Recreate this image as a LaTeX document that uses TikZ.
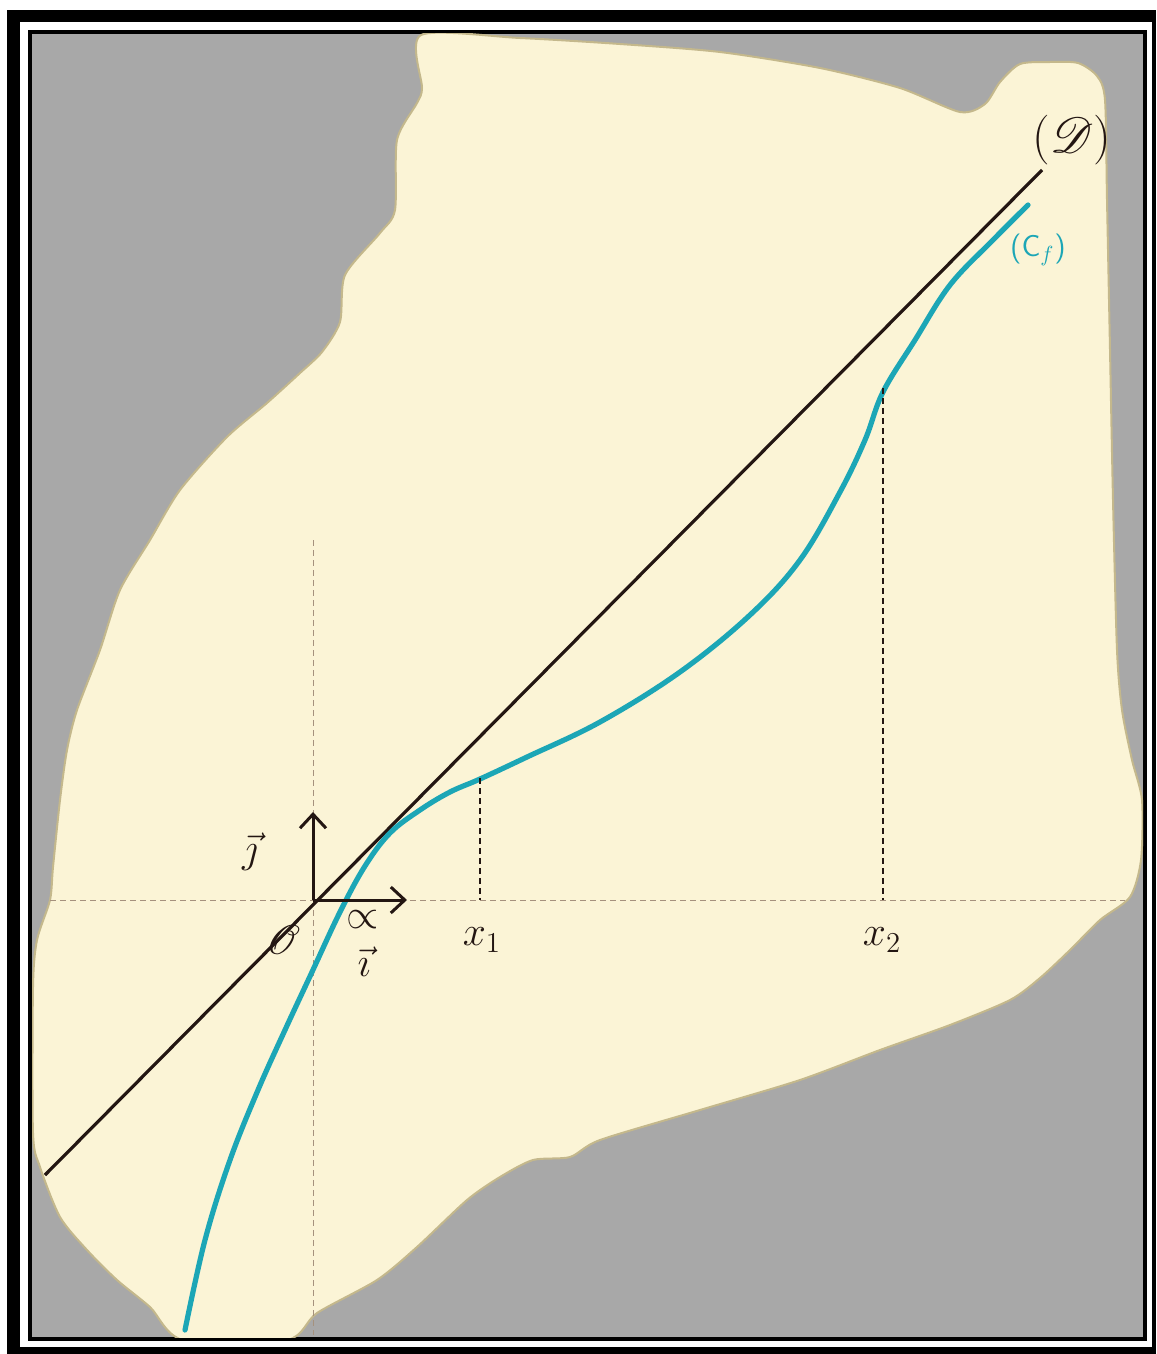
\documentclass[tikz,border=0pt]{standalone}
\usepackage{mathrsfs}
\usetikzlibrary{arrows.meta}
\definecolor{paper}{RGB}{251,244,214}
\definecolor{paperedge}{RGB}{196,184,140}
\definecolor{bggray}{RGB}{168,168,168}
\definecolor{curvecol}{RGB}{28,166,182}
\definecolor{axiscol}{RGB}{165,145,125}
\definecolor{inkcol}{RGB}{35,22,18}
\begin{document}
\begin{tikzpicture}[x=0.5pt,y=-0.5pt,
  faintaxis/.style={axiscol, densely dashed, line width=0.5pt},
  unitvec/.style={inkcol, line width=1.5pt, -{Straight Barb[length=7pt,width=13pt,line width=1.5pt]}},
  dline/.style={inkcol, line width=1.6pt},
  cfcurve/.style={curvecol, line width=2.6pt, line cap=round},
  proj/.style={inkcol, dashed, dash pattern=on 3pt off 2pt, line width=1pt},
  lbl/.style={inner sep=0pt, text=inkcol}]
\useasboundingbox (0,0) rectangle (1156,1354);
% frame
\fill[white] (0,0) rectangle (1156,1354);
\fill[black] (7,10) rectangle (1156,1354);
\fill[white] (20,22) rectangle (1152,1347);
\fill[black] (28,30) rectangle (1147,1341);
\fill[bggray] (32,34) rectangle (1143,1337);
% paper
\begin{scope}
\clip (32,34) rectangle (1143,1337);
\filldraw[fill=paper, draw=paperedge, line width=1pt] plot[smooth cycle, tension=0.45] coordinates {
(421,35) (520,38) (620,44) (720,52) (820,68) (900,88) (960,112) (985,104) (1000,82)
(1020,64) (1050,62) (1078,63) (1097,76) (1105,100) (1107,200) (1110,350) (1113,500)
(1117,650) (1122,710) (1132,760) (1142,800) (1141,860) (1130,897) (1100,920) (1070,950)
(1040,978) (1010,1000) (950,1025) (880,1050) (800,1080) (700,1110) (600,1140) (570,1157)
(533,1160) (500,1177) (467,1200) (417,1247) (377,1280) (317,1313) (287,1340) (183,1340)
(150,1307) (117,1280) (87,1250) (60,1217) (40,1167) (33,1133) (33,987) (37,940) (50,900)
(53,867) (60,800) (67,750) (77,710) (100,650) (120,590) (150,540) (180,490) (227,437)
(267,403) (300,373) (322,352) (340,322) (345,275) (380,233) (395,210) (397,140) (417,103)
(422,88)};
\end{scope}
% named points
\coordinate (O) at (313,900);
\coordinate (I) at (407,900);
\coordinate (J) at (313,812);
\coordinate (AxL) at (50,900);
\coordinate (AxR) at (1125,900);
\coordinate (AxT) at (313,540);
\coordinate (AxB) at (313,1335);
\coordinate (D1) at (45,1175);
\coordinate (D2) at (1042,170);
\coordinate (X1top) at (480,778);
\coordinate (X1bot) at (480,900);
\coordinate (X2top) at (883,388);
\coordinate (X2bot) at (883,900);
% faint axes
\draw[faintaxis] (AxL) -- (AxR);
\draw[faintaxis] (AxT) -- (AxB);
% line D
\draw[dline] (D1) -- (D2);
% curve C_f
\draw[cfcurve] plot[smooth, tension=0.6] coordinates {
(185,1330) (205,1240) (230,1160) (258,1090) (285,1030) (312,972) (340,912)
(365,866) (390,833) (420,810) (450,792) (480,779) (527,757) (600,722)
(680,672) (750,615) (800,560) (840,492) (865,440) (883,392) (915,340) (950,285)
(993,240) (1028,205)};
% projections
\draw[proj] (X1top) -- (X1bot);
\draw[proj] (X2top) -- (X2bot);
% unit vectors
\draw[unitvec] (O) -- (I);
\draw[unitvec] (O) -- (J);
% labels
\node[lbl, font=\fontsize{24}{28}\selectfont] (LD) at (1072,140) {$(\mathscr{D})$};
\node[lbl, text=curvecol, font=\sffamily\fontsize{15}{18}\selectfont] (LC) at (1038,250) {(C$_f$)};
\node[lbl, font=\fontsize{22}{26}\selectfont] (LJ) at (250,852) {$\vec{\jmath}$};
\node[lbl, font=\fontsize{22}{26}\selectfont] (LO) at (283,940) {$\mathscr{O}$};
\node[lbl, font=\fontsize{20}{24}\selectfont] (Lx) at (363,920) {$\propto$};
\node[lbl, font=\fontsize{20}{24}\selectfont] (LI) at (364,962) {$\vec{\imath}$};
\node[lbl, font=\fontsize{20}{24}\selectfont] (LX1) at (482,940) {$x_1$};
\node[lbl, font=\fontsize{20}{24}\selectfont] (LX2) at (882,940) {$x_2$};
\end{tikzpicture}
\end{document}
